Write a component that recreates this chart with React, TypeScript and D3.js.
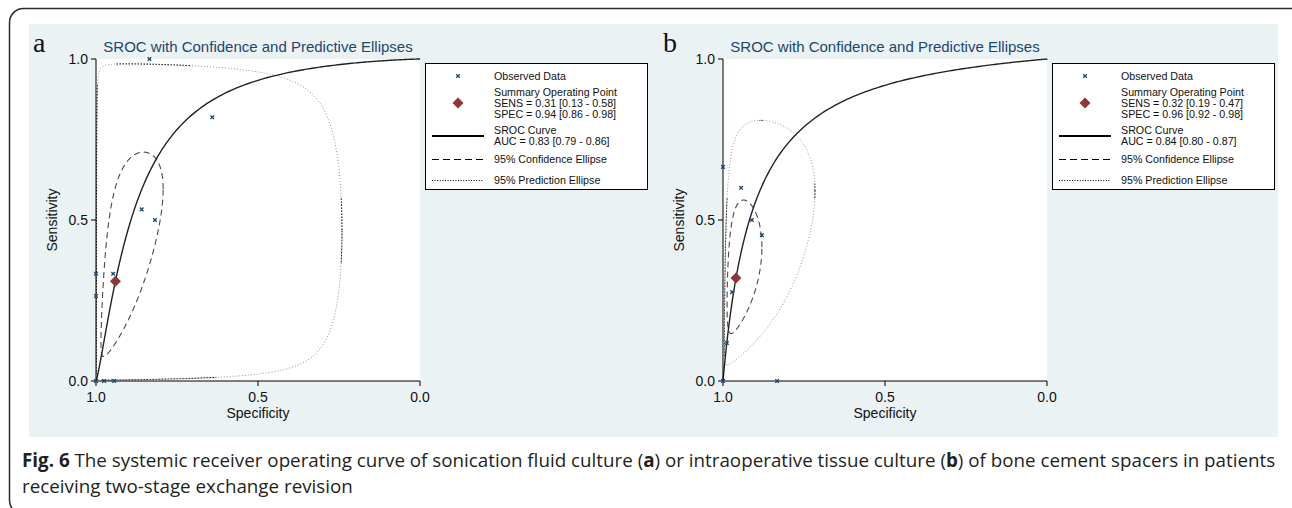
import React, { useEffect, useRef } from "react";
import * as d3 from "d3";

const W = 1292;
const H = 508;

// ---- Panel a: sonication fluid culture ----
const specObsA = [0.835, 0.641, 0.859, 0.818, 0.947, 1.0, 1.0, 1.0, 0.975, 0.944];
const sensObsA = [1.0, 0.819, 0.533, 0.5, 0.333, 0.333, 0.264, 0.0, 0.0, 0.0];
const summaryA = [0.31, 0.13, 0.58, 0.94, 0.86, 0.98]; // sens, lo, hi, spec, lo, hi
const aucA = [0.83, 0.79, 0.86];
const srocA = [2.646, 1.252]; // logit(sens) = intercept + slope * logit(1 - spec)
const confEllipseA = [1.41, 1.7, 0.7]; // half-extent logit(FPR), half-extent logit(sens), correlation
const predEllipseA = [3.9, 4.98, 0.136];

// ---- Panel b: intraoperative tissue culture ----
const specObsB = [1.0, 0.944, 0.911, 0.88, 0.972, 0.988, 1.0, 0.833];
const sensObsB = [0.665, 0.6, 0.5, 0.453, 0.276, 0.118, 0.0, 0.0];
const summaryB = [0.32, 0.19, 0.47, 0.96, 0.92, 0.98];
const aucB = [0.84, 0.8, 0.87];
const srocB = [2.42, 1.0];
const confEllipseB = [1.186, 1.003, 0.41];
const predEllipseB = [2.253, 2.2, 0.51];

const panelLetters = ["a", "b"];
const panelTitle = "SROC with Confidence and Predictive Ellipses";
const tickValues = [0, 0.5, 1];
const captionLine2 = "receiving two-stage exchange revision";

const logit = (p: number) => Math.log(p / (1 - p));
const expit = (v: number) => 1 / (1 + Math.exp(-v));
const fmt = (v: number) => v.toFixed(2);

const NAVY = "#1a476f";
const MAROON = "#903438";
const ARIAL = "Liberation Sans, Arial, sans-serif";

type PanelData = {
  spec: number[];
  sens: number[];
  summary: number[];
  auc: number[];
  sroc: number[];
  conf: number[];
  pred: number[];
};

const panels: PanelData[] = [
  { spec: specObsA, sens: sensObsA, summary: summaryA, auc: aucA, sroc: srocA, conf: confEllipseA, pred: predEllipseA },
  { spec: specObsB, sens: sensObsB, summary: summaryB, auc: aucB, sroc: srocB, conf: confEllipseB, pred: predEllipseB },
];

const PLOT_LEFT = [96, 723];
const LEGEND_LEFT = [425, 1052];
const LETTER_X = [33, 663];
const PLOT_TOP = 59;
const PLOT_W = 324;
const PLOT_H = 322;

function ellipsePoints(summary: number[], e: number[]): [number, number][] {
  const cx = logit(1 - summary[3]);
  const cy = logit(summary[0]);
  const [hx, hy, r] = e;
  const n = 900;
  const s = Math.sqrt(1 - r * r);
  return d3.range(n + 1).map((k) => {
    const t = (2 * Math.PI * k) / n;
    const lx = cx + hx * Math.cos(t);
    const ly = cy + hy * (r * Math.cos(t) + s * Math.sin(t));
    return [1 - expit(lx), expit(ly)] as [number, number];
  });
}

export default function App() {
  const ref = useRef<SVGSVGElement>(null);

  useEffect(() => {
    const svg = d3.select(ref.current);
    svg.selectAll("*").remove();

    // outer frame
    svg
      .append("rect")
      .attr("x", 9.5)
      .attr("y", 8.5)
      .attr("width", 1320)
      .attr("height", 506)
      .attr("rx", 14)
      .attr("fill", "#fff")
      .attr("stroke", "#2b2b2b")
      .attr("stroke-width", 1.5);

    // graph region background
    svg
      .append("rect")
      .attr("x", 29)
      .attr("y", 24)
      .attr("width", 1249)
      .attr("height", 413)
      .attr("fill", "#eaf2f3");

    panels.forEach((p, i) => {
      const left = PLOT_LEFT[i];
      const x = d3.scaleLinear().domain([1, 0]).range([left, left + PLOT_W]);
      const y = d3.scaleLinear().domain([0, 1]).range([PLOT_TOP + PLOT_H, PLOT_TOP]);
      const g = svg.append("g");

      g.append("rect")
        .attr("x", left)
        .attr("y", PLOT_TOP)
        .attr("width", PLOT_W)
        .attr("height", PLOT_H)
        .attr("fill", "#fff");

      // panel letter and title
      g.append("text")
        .attr("x", LETTER_X[i])
        .attr("y", 52)
        .attr("font-family", "Liberation Serif, Times New Roman, serif")
        .attr("font-size", 28)
        .attr("fill", "#111")
        .text(panelLetters[i]);
      g.append("text")
        .attr("x", left + PLOT_W / 2)
        .attr("y", 52)
        .attr("text-anchor", "middle")
        .attr("font-family", ARIAL)
        .attr("font-size", 15)
        .attr("fill", NAVY)
        .text(panelTitle);

      const line = d3
        .line<[number, number]>()
        .x((d) => x(d[0]))
        .y((d) => y(d[1]));

      // prediction ellipse: dotted, crisp where nearly axis-aligned
      const pred = ellipsePoints(p.summary, p.pred);
      g.append("path")
        .attr("d", line(pred) as string)
        .attr("fill", "none")
        .attr("stroke", "#8f8f8f")
        .attr("stroke-width", 1)
        .attr("stroke-dasharray", "1 2");
      const px = pred.map((d) => [x(d[0]), y(d[1])] as [number, number]);
      const runs: [number, number][][] = [];
      let cur: [number, number][] = [];
      for (let k = 0; k < px.length - 1; k++) {
        const dx = Math.abs(px[k + 1][0] - px[k][0]);
        const dy = Math.abs(px[k + 1][1] - px[k][1]);
        const ang = Math.atan2(dy, dx);
        const crisp = ang < 0.05 || ang > Math.PI / 2 - 0.05;
        if (crisp) {
          if (cur.length === 0) cur.push(px[k]);
          cur.push(px[k + 1]);
        } else if (cur.length) {
          runs.push(cur);
          cur = [];
        }
      }
      if (cur.length) runs.push(cur);
      runs.forEach((run) => {
        g.append("path")
          .attr("d", d3.line()(run) as string)
          .attr("fill", "none")
          .attr("stroke", "#111")
          .attr("stroke-width", 1)
          .attr("stroke-dasharray", "1.5 1.5");
      });

      // confidence ellipse
      g.append("path")
        .attr("d", line(ellipsePoints(p.summary, p.conf)) as string)
        .attr("fill", "none")
        .attr("stroke", "#4a4a4a")
        .attr("stroke-width", 1.1)
        .attr("stroke-dasharray", "6 4");

      // SROC curve
      const [a0, b0] = p.sroc;
      const curve: [number, number][] = [[1, 0]];
      d3.range(-12, 12.001, 0.04).forEach((l) => curve.push([1 - expit(l), expit(a0 + b0 * l)]));
      curve.push([0, 1]);
      g.append("path")
        .attr("d", line(curve) as string)
        .attr("fill", "none")
        .attr("stroke", "#222")
        .attr("stroke-width", 1.4);

      // axes
      const axisY = PLOT_TOP + PLOT_H;
      g.append("line")
        .attr("x1", left).attr("x2", left)
        .attr("y1", PLOT_TOP).attr("y2", axisY)
        .attr("stroke", "#000").attr("stroke-width", 1);
      g.append("line")
        .attr("x1", left).attr("x2", left + PLOT_W)
        .attr("y1", axisY).attr("y2", axisY)
        .attr("stroke", "#000").attr("stroke-width", 1);
      tickValues.forEach((v) => {
        g.append("line")
          .attr("x1", left - 5).attr("x2", left)
          .attr("y1", y(v)).attr("y2", y(v))
          .attr("stroke", "#000");
        g.append("text")
          .attr("x", left - 8)
          .attr("y", y(v) + 5)
          .attr("text-anchor", "end")
          .attr("font-family", ARIAL)
          .attr("font-size", 14)
          .attr("fill", "#111")
          .text(v.toFixed(1));
        g.append("line")
          .attr("x1", x(v)).attr("x2", x(v))
          .attr("y1", axisY).attr("y2", axisY + 5)
          .attr("stroke", "#000");
        g.append("text")
          .attr("x", x(v))
          .attr("y", axisY + 21)
          .attr("text-anchor", "middle")
          .attr("font-family", ARIAL)
          .attr("font-size", 14)
          .attr("fill", "#111")
          .text(v.toFixed(1));
      });
      g.append("text")
        .attr("x", left + PLOT_W / 2)
        .attr("y", axisY + 37)
        .attr("text-anchor", "middle")
        .attr("font-family", ARIAL)
        .attr("font-size", 14)
        .attr("fill", "#111")
        .text("Specificity");
      g.append("text")
        .attr("transform", `translate(${left - 39},${PLOT_TOP + PLOT_H / 2}) rotate(-90)`)
        .attr("text-anchor", "middle")
        .attr("font-family", ARIAL)
        .attr("font-size", 14)
        .attr("fill", "#111")
        .text("Sensitivity");

      // observed data
      const cross = (cx: number, cy: number, s: number) =>
        `M${cx - s},${cy - s}L${cx + s},${cy + s}M${cx - s},${cy + s}L${cx + s},${cy - s}`;
      p.spec.forEach((s, k) => {
        g.append("path")
          .attr("d", cross(x(s), y(p.sens[k]), 1.8))
          .attr("stroke", NAVY)
          .attr("stroke-width", 1.3)
          .attr("fill", "none");
      });

      // summary operating point
      const diamond = (cx: number, cy: number, s: number) =>
        `M${cx},${cy - s}L${cx + s},${cy}L${cx},${cy + s}L${cx - s},${cy}Z`;
      g.append("path")
        .attr("d", diamond(x(p.summary[3]), y(p.summary[0]), 5.5))
        .attr("fill", MAROON);

      // legend
      const lx = LEGEND_LEFT[i];
      const lg = g.append("g");
      lg.append("rect")
        .attr("x", lx + 0.5)
        .attr("y", 63.5)
        .attr("width", 222)
        .attr("height", 126)
        .attr("fill", "#fff")
        .attr("stroke", "#000")
        .attr("stroke-width", 1);
      const sx = lx + 33;
      const tx = lx + 69;
      lg.append("path")
        .attr("d", cross(sx, 76, 1.8))
        .attr("stroke", NAVY)
        .attr("stroke-width", 1.3);
      lg.append("path").attr("d", diamond(sx, 103, 5.5)).attr("fill", MAROON);
      lg.append("line")
        .attr("x1", lx + 7).attr("x2", lx + 59)
        .attr("y1", 136).attr("y2", 136)
        .attr("stroke", "#000").attr("stroke-width", 2.2);
      lg.append("line")
        .attr("x1", lx + 7).attr("x2", lx + 59)
        .attr("y1", 159.5).attr("y2", 159.5)
        .attr("stroke", "#000").attr("stroke-width", 1.1)
        .attr("stroke-dasharray", "7 4");
      lg.append("line")
        .attr("x1", lx + 7).attr("x2", lx + 59)
        .attr("y1", 180.5).attr("y2", 180.5)
        .attr("stroke", "#000").attr("stroke-width", 1.1)
        .attr("stroke-dasharray", "1 1.6");
      const s = p.summary;
      const rows: [string, number][] = [
        ["Observed Data", 79.8],
        ["Summary Operating Point", 96.2],
        [`SENS = ${fmt(s[0])} [${fmt(s[1])} - ${fmt(s[2])}]`, 106.8],
        [`SPEC = ${fmt(s[3])} [${fmt(s[4])} - ${fmt(s[5])}]`, 117.5],
        ["SROC Curve", 133.8],
        [`AUC = ${fmt(p.auc[0])} [${fmt(p.auc[1])} - ${fmt(p.auc[2])}]`, 144.8],
        ["95% Confidence Ellipse", 163.2],
        ["95% Prediction Ellipse", 184.2],
      ];
      rows.forEach(([t, ty]) => {
        lg.append("text")
          .attr("x", tx)
          .attr("y", ty)
          .attr("font-family", ARIAL)
          .attr("font-size", 10.7)
          .attr("fill", "#111")
          .text(t);
      });
    });

    // caption
    const capFont = "Open Sans, Noto Sans, sans-serif";
    const c1 = svg
      .append("text")
      .attr("x", 22)
      .attr("y", 467)
      .attr("font-family", capFont)
      .attr("font-size", 15)
      .attr("fill", "#231f20");
    const parts: [string, boolean][] = [
      ["Fig. 6", true],
      [" The systemic receiver operating curve of sonication fluid culture (", false],
      ["a", true],
      [") or intraoperative tissue culture (", false],
      ["b", true],
      [") of bone cement spacers in patients", false],
    ];
    parts.forEach(([t, bold]) => {
      c1.append("tspan").attr("font-weight", bold ? 700 : 400).text(t);
    });
    const c2 = svg
      .append("text")
      .attr("x", 22)
      .attr("y", 493)
      .attr("font-family", capFont)
      .attr("font-size", 15)
      .attr("fill", "#231f20")
      .text(captionLine2);
    const node = c1.node() as SVGTextElement;
    const len = node.getComputedTextLength();
    if (len > 0) {
      const fs = (15 * 1254) / len;
      c1.attr("font-size", fs);
      c2.attr("font-size", fs);
    }
  }, []);

  return (
    <svg
      ref={ref}
      width={W}
      height={H}
      style={{ position: "absolute", left: 0, top: 0, display: "block", background: "#fff" }}
    />
  );
}
